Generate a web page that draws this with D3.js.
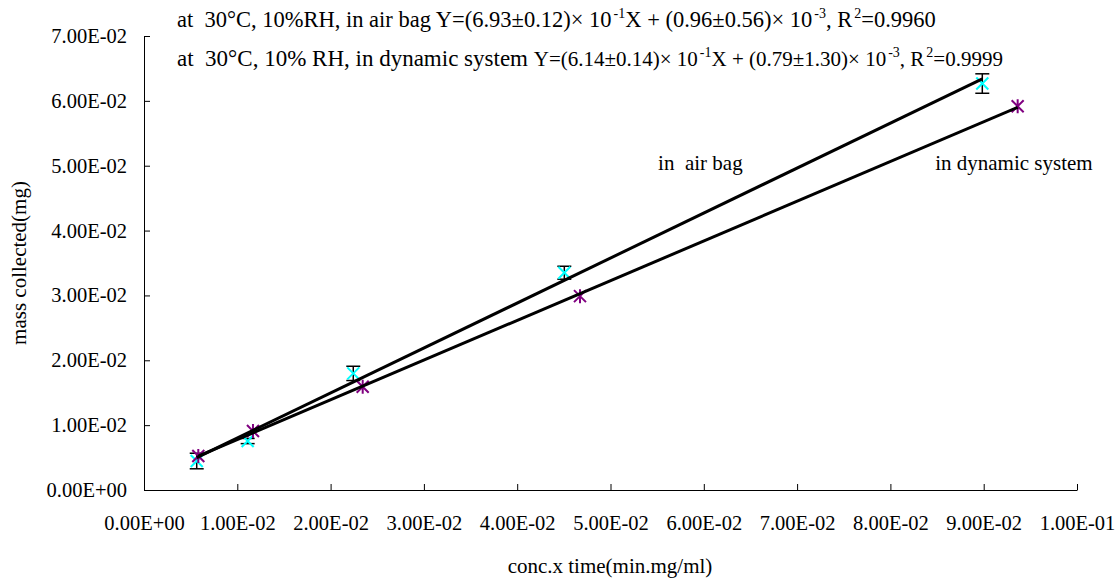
<!DOCTYPE html>
<html>
<head>
<meta charset="utf-8">
<script src="https://cdn.jsdelivr.net/npm/d3@7"></script>
<style>
  body { margin: 0; background: #fff; }
  text { font-family: "Liberation Serif", "Times New Roman", serif; fill: #000; }
</style>
</head>
<body>
<div id="chart"></div>
<script>
// in air bag (cyan, with error bars)
const airX = [0.00565, 0.01111, 0.02243, 0.04505, 0.08985];
const airY = [0.00447, 0.00755, 0.01798, 0.03350, 0.06267];
const airErr = [0.0012, 0.0004, 0.0011, 0.0010, 0.0015];
// in dynamic system (purple)
const dynX = [0.00582, 0.01168, 0.02344, 0.04673, 0.09364];
const dynY = [0.00524, 0.00909, 0.01593, 0.02989, 0.05917];

const xTicks = [0, 0.01, 0.02, 0.03, 0.04, 0.05, 0.06, 0.07, 0.08, 0.09, 0.1];
const xTickLabels = ['0.00E+00', '1.00E-02', '2.00E-02', '3.00E-02', '4.00E-02', '5.00E-02',
  '6.00E-02', '7.00E-02', '8.00E-02', '9.00E-02', '1.00E-01'];
const yTicks = [0, 0.01, 0.02, 0.03, 0.04, 0.05, 0.06, 0.07];
const yTickLabels = ['0.00E+00', '1.00E-02', '2.00E-02', '3.00E-02', '4.00E-02', '5.00E-02',
  '6.00E-02', '7.00E-02'];

const W = 1119, H = 581;
const margin = { top: 36, right: 42, bottom: 91, left: 144 };
const width = W - margin.left - margin.right;
const height = H - margin.top - margin.bottom;

const svg = d3.select('#chart').append('svg')
  .attr('width', W)
  .attr('height', H);

const g = svg.append('g')
  .attr('transform', `translate(${margin.left},${margin.top})`);

const x = d3.scaleLinear().domain([0, 0.1]).range([0, width]);
const y = d3.scaleLinear().domain([0, 0.07]).range([height, 0]);

// axes, ticks pointing inward
const xAxis = g.append('g')
  .attr('transform', `translate(0,${height})`)
  .call(d3.axisBottom(x).tickValues(xTicks)
    .tickFormat((d, i) => xTickLabels[i])
    .tickSizeInner(-6).tickSizeOuter(0).tickPadding(25));
const yAxis = g.append('g')
  .call(d3.axisLeft(y).tickValues(yTicks)
    .tickFormat((d, i) => yTickLabels[i])
    .tickSizeInner(-6).tickSizeOuter(0).tickPadding(17));
[xAxis, yAxis].forEach(a => {
  a.selectAll('path, line').attr('stroke', '#000').attr('stroke-width', 1);
  a.selectAll('text').style('font-size', '20.5px').style('font-family', '"Liberation Serif", serif');
});

// least squares trendline from points
function fit(xs, ys) {
  const mx = d3.mean(xs), my = d3.mean(ys);
  let sxy = 0, sxx = 0;
  xs.forEach((v, i) => { sxy += (v - mx) * (ys[i] - my); sxx += (v - mx) * (v - mx); });
  const b = sxy / sxx;
  return { b: b, a: my - b * mx };
}

// error bars (air bag)
const cap = 7;
const eb = g.append('g').attr('stroke', '#000').attr('stroke-width', 1.5);
airX.forEach((v, i) => {
  const cx = x(v), y1 = y(airY[i] + airErr[i]), y2 = y(airY[i] - airErr[i]);
  eb.append('line').attr('x1', cx).attr('x2', cx).attr('y1', y1).attr('y2', y2);
  eb.append('line').attr('x1', cx - cap).attr('x2', cx + cap).attr('y1', y1).attr('y2', y1);
  eb.append('line').attr('x1', cx - cap).attr('x2', cx + cap).attr('y1', y2).attr('y2', y2);
});

// cyan x markers
const s = 6;
const mk = g.append('g').attr('stroke', '#00ffff').attr('stroke-width', 2);
airX.forEach((v, i) => {
  const cx = x(v), cy = y(airY[i]);
  mk.append('path').attr('d', `M${cx - s},${cy - s}L${cx + s},${cy + s}M${cx - s},${cy + s}L${cx + s},${cy - s}`);
});

// purple asterisks
const mk2 = g.append('g').attr('stroke', '#800080').attr('stroke-width', 2);
dynX.forEach((v, i) => {
  const cx = x(v), cy = y(dynY[i]);
  mk2.append('path').attr('d', `M${cx - s},${cy - s}L${cx + s},${cy + s}M${cx - s},${cy + s}L${cx + s},${cy - s}M${cx},${cy - s - 1}L${cx},${cy + s + 1}`);
});

// trendlines
[[airX, airY], [dynX, dynY]].forEach(([xs, ys]) => {
  const f = fit(xs, ys);
  const x0 = d3.min(xs), x1 = d3.max(xs);
  g.append('line')
    .attr('x1', x(x0)).attr('y1', y(f.a + f.b * x0))
    .attr('x2', x(x1)).attr('y2', y(f.a + f.b * x1))
    .attr('stroke', '#000').attr('stroke-width', 3);
});

// series labels
g.append('text').attr('x', x(0.0551)).attr('y', y(0.0504)).attr('dy', '0.35em')
  .attr('xml:space', 'preserve').style('font-size', '21px').text('in  air bag');
g.append('text').attr('x', x(0.0848)).attr('y', y(0.0504)).attr('dy', '0.35em')
  .style('font-size', '21px').text('in dynamic system');

// equations (superscripts raised, next plain part drops back down)
function eq(yPos, preSize, eqSize, parts) {
  const t = svg.append('text').attr('x', 177).attr('y', yPos)
    .attr('xml:space', 'preserve');
  let back = 0;
  parts.forEach((p, i) => {
    const fs = i === 0 ? preSize : eqSize;
    if (typeof p === 'object') {
      t.append('tspan').attr('dx', 2).attr('dy', -9).style('font-size', '14px').text(p.sup);
      back = 9;
    } else {
      t.append('tspan').attr('dy', back).style('font-size', fs + 'px').text(p);
      back = 0;
    }
  });
}
eq(27, 22.5, 22.5, ['at  30°C, 10%RH, in air bag ', 'Y=(6.93±0.12)× 10', { sup: '-1' }, 'X + (0.96±0.56)× 10',
  { sup: '-3' }, ', R', { sup: '2' }, '=0.9960']);
eq(66, 23, 21, ['at  30°C, 10% RH, in dynamic system ', 'Y=(6.14±0.14)× 10', { sup: '-1' }, 'X + (0.79±1.30)× 10',
  { sup: '-3' }, ', R', { sup: '2' }, '=0.9999']);

// axis titles
svg.append('text')
  .attr('transform', `translate(26,${margin.top + height / 2}) rotate(-90)`)
  .attr('text-anchor', 'middle').style('font-size', '21px').text('mass collected(mg)');
svg.append('text')
  .attr('x', 610).attr('y', 573)
  .attr('text-anchor', 'middle').style('font-size', '21px').text('conc.x time(min.mg/ml)');
</script>
</body>
</html>
